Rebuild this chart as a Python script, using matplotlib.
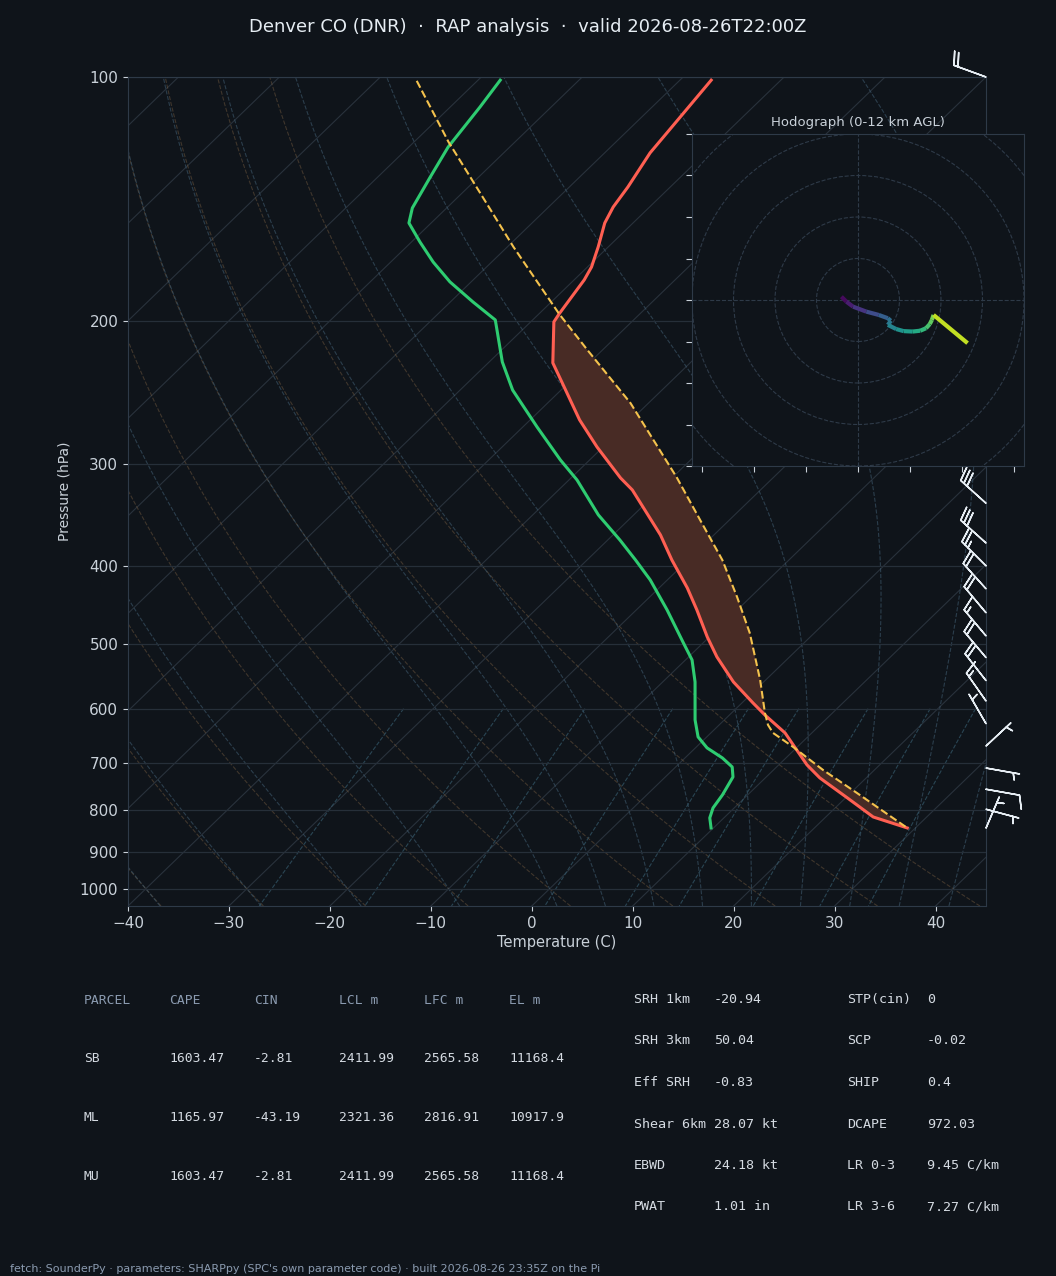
import numpy as np
import matplotlib
matplotlib.use("Agg")
import matplotlib.pyplot as plt
from matplotlib import transforms
from matplotlib.collections import LineCollection
from matplotlib.patches import Circle
from matplotlib.ticker import NullLocator

BG = "#0f141a"
FG = "#c9d1d9"
DIM = "#8b9bb0"
EDGE = "#2e3a48"
GRID = "#262f39"
TEMP_C = "#ff5f52"
DEW_C = "#2ecc71"
PARCEL_C = "#f4c24d"

title = "Denver CO (DNR)  \u00b7  RAP analysis  \u00b7  valid 2026-08-26T22:00Z"
footer = ("fetch: SounderPy \u00b7 parameters: SHARPpy (SPC's own parameter code) "
          "\u00b7 built 2026-08-26 23:35Z on the Pi")

# environmental temperature (hPa, degC)
temp_p = [100.9, 118.6, 124.0, 136.6, 144.6, 151.3, 161.9, 171.4, 177.8, 186.6,
          195.8, 200.3, 225.0, 238.2, 264.5, 285.6, 311.8, 322.6, 366.5, 393.5,
          426.0, 453.4, 489.5, 518.0, 556.1, 590.3, 610.7, 642.7, 670.6, 703.7,
          730.1, 772.9, 815.7, 841.5]
temp_c = [-66.9, -65.8, -65.5, -64.2, -63.6, -62.8, -61.0, -59.6, -59.0, -58.5,
          -58.0, -57.7, -53.6, -50.6, -45.1, -40.6, -35.1, -32.7, -25.3, -21.6,
          -17.2, -14.0, -10.2, -7.2, -3.0, 1.1, 3.5, 7.35, 9.9, 12.8,
          15.4, 20.2, 24.7, 29.2]

# dewpoint
dewp_p = [100.9, 108.9, 122.0, 132.8, 145.0, 151.3, 159.7, 169.0, 178.8, 189.3,
          199.2, 224.4, 243.0, 269.8, 296.3, 313.6, 346.3, 371.8, 393.5, 416.4,
          453.4, 496.5, 522.5, 556.1, 619.4, 650.0, 670.6, 689.9, 707.8, 728.1,
          766.2, 795.0, 817.8, 841.5]
dewp_c = [-87.8, -87.05, -86.1, -84.8, -83.4, -82.2, -79.15, -75.8, -72.1, -67.75,
          -63.7, -58.7, -54.8, -48.6, -42.9, -39.2, -33.5, -28.8, -25.2, -21.7,
          -16.95, -12.1, -9.35, -6.8, -2.9, -0.86, 1.16, 3.7, 5.6, 6.7,
          7.5, 7.9, 8.6, 9.76]

# surface-based parcel
parcel_p = [101.1, 120.2, 139.0, 161.9, 195.8, 216.9, 252.1, 311.8, 351.3, 393.5,
            437.0, 484.0, 552.9, 607.2, 628.3, 642.7, 668.7, 713.8, 761.8, 841.5]
parcel_c = [-96.0, -86.6, -78.2, -69.4, -58.0, -51.5, -41.8, -29.5, -22.9, -16.6,
            -11.35, -6.4, -0.56, 3.3, 4.84, 6.16, 9.58, 14.9, 20.6, 29.2]

# wind barbs: pressure, direction (deg from), speed (kt)
barb_p = [100, 335, 375, 400, 427, 457, 488, 519, 554, 587, 626, 667, 710, 754, 798, 842]
barb_dir = [290, 312, 312, 315, 318, 320, 320, 320, 322, 325, 330, 47, 100, 100, 105, 23]
barb_kt = [20, 30, 30, 25, 20, 20, 15, 20, 20, 15, 5, 5, 5, 10, 5, 5]

# hodograph (kt) and height (km AGL)
hodo_u = [-4.0, -2.8, -1.2, 2.0, 5.0, 7.2, 7.9, 7.2, 9.2, 11.0, 13.2, 15.0, 16.4, 17.3, 17.8, 18.2, 26.4]
hodo_v = [0.8, -0.4, -1.6, -2.8, -3.6, -4.4, -5.0, -6.0, -7.0, -7.5, -7.6, -7.4, -6.8, -5.8, -4.8, -3.6, -10.4]
hodo_z = [0.0, 0.6, 1.3, 2.3, 3.2, 4.0, 4.5, 5.0, 5.8, 6.4, 7.0, 7.6, 8.2, 8.8, 9.3, 9.8, 12.0]

parcel_header = ["PARCEL", "CAPE", "CIN", "LCL m", "LFC m", "EL m"]
parcel_rows = [["SB", "1603.47", "-2.81", "2411.99", "2565.58", "11168.4"],
               ["ML", "1165.97", "-43.19", "2321.36", "2816.91", "10917.9"],
               ["MU", "1603.47", "-2.81", "2411.99", "2565.58", "11168.4"]]
idx_labels_a = ["SRH 1km", "SRH 3km", "Eff SRH", "Shear 6km", "EBWD", "PWAT"]
idx_values_a = ["-20.94", "50.04", "-0.83", "28.07 kt", "24.18 kt", "1.01 in"]
idx_labels_b = ["STP(cin)", "SCP", "SHIP", "DCAPE", "LR 0-3", "LR 3-6"]
idx_values_b = ["0", "-0.02", "0.4", "972.03", "9.45 C/km", "7.27 C/km"]

pressure_ticks = [100, 200, 300, 400, 500, 600, 700, 800, 900, 1000]
isotherms = np.arange(-130, 50, 10)
dry_theta = np.arange(-40, 46, 10)
moist_t0 = np.concatenate((np.arange(-40, 0, 10), np.arange(0, 46, 5)))
mix_w = [0.0004, 0.001, 0.002, 0.004, 0.007, 0.01, 0.016, 0.024, 0.032]

RD, CP, LV, EPS = 287.04749, 1004.6662, 2.50084e6, 0.6219569


def sat_vp(t_c):
    return 6.112 * np.exp(17.67 * t_c / (t_c + 243.5))


def moist_rate(t_k, p):
    es = sat_vp(t_k - 273.15)
    rs = EPS * es / (p - es)
    return (RD * t_k + LV * rs) / (CP + LV * LV * rs * EPS / (RD * t_k * t_k)) / p


def moist_adiabats(t0_c, levels):
    out = [np.asarray(t0_c, float) + 273.15]
    for p0, p1 in zip(levels[:-1], levels[1:]):
        h = p1 - p0
        t = out[-1]
        k1 = moist_rate(t, p0)
        k2 = moist_rate(t + h * k1 / 2, p0 + h / 2)
        k3 = moist_rate(t + h * k2 / 2, p0 + h / 2)
        k4 = moist_rate(t + h * k3, p1)
        out.append(t + h * (k1 + 2 * k2 + 2 * k3 + k4) / 6)
    return np.array(out) - 273.15


fig = plt.figure(figsize=(10.56, 12.76), dpi=100, facecolor=BG)
ax = fig.add_axes([128 / 1056, 1 - 906 / 1276, 858 / 1056, 829 / 1276], facecolor=BG)
ax.set_yscale("log")
ax.set_xlim(-40, 45)
ax.set_ylim(1050, 100)
ax.set_autoscale_on(False)
ax.set_yticks(pressure_ticks)
ax.set_yticklabels([str(p) for p in pressure_ticks])
ax.yaxis.set_minor_locator(NullLocator())
ax.set_xticks(np.arange(-40, 41, 10))
ax.yaxis.grid(True, color=GRID, lw=0.9)
ax.tick_params(colors=FG, labelsize=11)
for s in ax.spines.values():
    s.set_color(EDGE)
ax.set_xlabel("Temperature (C)", color=FG, fontsize=10.5, labelpad=3)
ax.set_ylabel("Pressure (hPa)", color=FG, fontsize=10, labelpad=6)

# skewed data transform (45 degrees, applied in axes coordinates)
skew = ax.transScale + (ax.transLimits + (transforms.Affine2D().skew_deg(45, 0) + ax.transAxes))

for t in isotherms:
    ax.plot([t, t], [1050, 100], color="#29323c", lw=0.8, transform=skew, zorder=1)

p_all = np.linspace(1050, 100, 120)
for th in dry_theta:
    tt = (th + 273.15) * (p_all / 1000.0) ** (RD / CP) - 273.15
    ax.plot(tt, p_all, color="#7a5f42", alpha=0.45, lw=0.8, ls="--", transform=skew, zorder=1)

p_up = np.linspace(1000, 100, 181)
p_dn = np.linspace(1000, 1050, 11)
m_up = moist_adiabats(moist_t0, p_up)
m_dn = moist_adiabats(moist_t0, p_dn)
for k in range(len(moist_t0)):
    pp = np.concatenate((p_dn[::-1], p_up[1:]))
    tt = np.concatenate((m_dn[::-1, k], m_up[1:, k]))
    ax.plot(tt, pp, color="#3e5a6e", alpha=0.6, lw=0.8, ls="--", transform=skew, zorder=1)

p_mix = np.linspace(600, 1050, 40)
for w in mix_w:
    e = p_mix * w / (EPS + w)
    g = np.log(e / 6.112)
    td = 243.5 * g / (17.67 - g)
    ax.plot(td, p_mix, color="#355a6c", alpha=0.7, lw=0.8, ls="--", transform=skew, zorder=1)

# CAPE shading between parcel and environment
grid_p = np.geomspace(parcel_p[-1], parcel_p[0], 400)
lp = np.log(grid_p)
env_i = np.interp(lp, np.log(temp_p), temp_c)
par_i = np.interp(lp, np.log(parcel_p), parcel_c)
ax.fill_betweenx(grid_p, env_i, par_i, where=par_i > env_i, interpolate=True,
                 color="#482b25", lw=0, transform=skew, zorder=2)

ax.plot(temp_c, temp_p, color=TEMP_C, lw=2.2, transform=skew, zorder=4)
ax.plot(dewp_c, dewp_p, color=DEW_C, lw=2.2, transform=skew, zorder=4)
ax.plot(parcel_c, parcel_p, color=PARCEL_C, lw=1.5, ls="--", transform=skew, zorder=5)

rad = np.deg2rad(barb_dir)
bu = -np.array(barb_kt) * np.sin(rad)
bv = -np.array(barb_kt) * np.cos(rad)
btr = transforms.blended_transform_factory(ax.transAxes, ax.transData)
ax.barbs(np.ones(len(barb_p)), barb_p, bu, bv, transform=btr, clip_on=False,
         length=7, color="#e6edf3", lw=1.1, zorder=6)

# hodograph inset
hx = fig.add_axes([692 / 1056, 1 - 466 / 1276, 332 / 1056, 332 / 1276], facecolor=BG)
hx.set_xlim(-40, 40)
hx.set_ylim(-40, 40)
for r in range(10, 60, 10):
    hx.add_patch(Circle((0, 0), r, fill=False, ec=EDGE, lw=0.8, ls="--"))
hx.axhline(0, color=EDGE, lw=0.8, ls="--")
hx.axvline(0, color=EDGE, lw=0.8, ls="--")
pts = np.column_stack([hodo_u, hodo_v])
segs = np.stack([pts[:-1], pts[1:]], axis=1)
zmid = (np.array(hodo_z[:-1]) + np.array(hodo_z[1:])) / 2
lc = LineCollection(segs, cmap="viridis", linewidths=3, capstyle="butt")
lc.set_array(zmid)
lc.set_clim(0, 12)
hx.add_collection(lc)
hx.set_xticks(np.arange(-37.5, 40, 12.5))
hx.set_yticks(np.arange(-40, 41, 10))
hx.tick_params(labelleft=False, labelbottom=False, colors=FG, length=4)
for s in hx.spines.values():
    s.set_color(EDGE)
hx.set_title("Hodograph (0-12 km AGL)", color=FG, fontsize=9.5, pad=6)

fig.text(0.5, 1 - 27 / 1276, title, ha="center", va="center", fontsize=13, color="#e6edf3")

for i, row in enumerate([parcel_header] + parcel_rows):
    for j, cell in enumerate(row):
        fig.text((84 + 85 * j) / 1056, 1 - (1000 + 58.7 * i) / 1276, cell,
                 family="DejaVu Sans Mono", fontsize=9.4, va="center",
                 color=DIM if i == 0 else "#d5dbe2")

for i in range(len(idx_labels_a)):
    y = 1 - (999.5 + 41.5 * i) / 1276
    for x0, txt in zip([634, 714, 847, 927],
                       [idx_labels_a[i], idx_values_a[i], idx_labels_b[i], idx_values_b[i]]):
        fig.text(x0 / 1056, y, txt, family="DejaVu Sans Mono", fontsize=9.6,
                 va="center", color="#d5dbe2")

fig.text(10 / 1056, 1 - 1269 / 1276, footer, fontsize=8, va="center", color=DIM)

fig.savefig("out.png", dpi=100, facecolor=BG)
